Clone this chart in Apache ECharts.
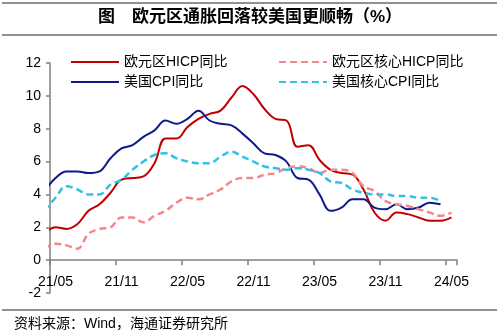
<!DOCTYPE html>
<html>
<head>
<meta charset="utf-8">
<script src="https://cdn.jsdelivr.net/npm/echarts@6/dist/echarts.min.js"></script>
<style>
html,body{margin:0;padding:0;background:#fff;}
#chart{width:500px;height:334px;}
</style>
</head>
<body>
<div id="chart"></div>
<script>
// Monthly data 21/04 .. 24/05 (first month is partly outside the axis range)
const months = ['21/04','21/05','21/06','21/07','21/08','21/09','21/10','21/11','21/12',
  '22/01','22/02','22/03','22/04','22/05','22/06','22/07','22/08','22/09','22/10','22/11','22/12',
  '23/01','23/02','23/03','23/04','23/05','23/06','23/07','23/08','23/09','23/10','23/11','23/12',
  '24/01','24/02','24/03','24/04','24/05'];
const categories = months.slice(1); // axis categories 21/05 .. 24/05

const euroHICP = [1.6,2.0,1.9,2.2,3.0,3.4,4.1,4.9,5.0,
  5.1,5.9,7.4,7.4,8.1,8.6,8.9,9.1,9.9,10.6,10.1,9.2,
  8.6,8.5,6.9,7.0,6.1,5.5,5.3,5.2,4.3,2.9,2.4,2.9,
  2.8,2.6,2.4,2.4,2.6];
const euroCore = [0.7,1.0,0.9,0.7,1.6,1.9,2.0,2.6,2.6,
  2.3,2.7,3.0,3.5,3.8,3.7,4.0,4.3,4.8,5.0,5.0,5.2,
  5.3,5.6,5.7,5.6,5.3,5.5,5.5,5.3,4.5,4.2,3.6,3.4,
  3.3,3.1,2.9,2.7,2.9];
const usCPI = [4.2,5.0,5.4,5.4,5.3,5.4,6.2,6.8,7.0,
  7.5,7.9,8.5,8.3,8.6,9.1,8.5,8.3,8.2,7.7,7.1,6.5,
  6.4,6.0,5.0,4.9,4.0,3.0,3.2,3.7,3.7,3.2,3.1,3.4,
  3.1,3.2,3.5,3.4];
const usCore = [3.0,3.8,4.5,4.3,4.0,4.0,4.6,4.9,5.5,
  6.0,6.4,6.5,6.2,6.0,5.9,5.9,6.3,6.6,6.3,6.0,5.7,
  5.6,5.5,5.6,5.5,5.3,4.8,4.7,4.3,4.1,4.0,4.0,3.9,
  3.9,3.8,3.8,3.6];

const yTicks = {min: -2, max: 12, interval: 2};

// month index -> position at centre of its category band (21/05 band = [0,1])
function toXY(arr){ return arr.map((v, i) => [i - 0.5, v]); }

const FONT = 'Liberation Sans, Arial, Noto Sans CJK SC, sans-serif';
const chart = echarts.init(document.getElementById('chart'));

// plot area
const G = {left: 50, right: 43, top: 63, bottom: 41};
const H = 334 - G.top - G.bottom;
const zeroY = G.top + H * (yTicks.max - 0) / (yTicks.max - yTicks.min);

function lineSeries(name, data, color, dashed, width){
  return {
    name: name, type: 'line', xAxisIndex: 0, yAxisIndex: 0,
    data: toXY(data), smooth: 0.4, symbol: 'none', showSymbol: false, clip: true,
    lineStyle: {color: color, width: width, type: dashed ? [7,4] : 'solid'},
    itemStyle: {color: color}
  };
}

const legendCommon = {
  orient: 'vertical', top: 55, padding: 0,
  itemWidth: 48, itemHeight: 12, itemGap: 6,
  itemStyle: {opacity: 0},
  textStyle: {fontFamily: FONT, fontSize: 14, color: '#000'}
};

const axisGrey = '#808080';

chart.setOption({
  animation: false,
  backgroundColor: '#fff',
  title: [{
    text: '图　欧元区通胀回落较美国更顺畅（%）',
    left: 'center', top: 9, padding: 0,
    textStyle: {fontFamily: FONT, fontSize: 17, fontWeight: 'bold', color: '#000'}
  }, {
    text: '资料来源：Wind，海通证券研究所',
    left: 14, top: 317, padding: 0,
    textStyle: {fontFamily: FONT, fontSize: 14, fontWeight: 'normal', color: '#000'}
  }],
  graphic: [
    {type: 'line', shape: {x1: 2, y1: 3, x2: 497, y2: 3}, style: {stroke: '#222', lineWidth: 1}},
    {type: 'line', shape: {x1: 2, y1: 35, x2: 497, y2: 35}, style: {stroke: '#222', lineWidth: 1}},
    {type: 'line', shape: {x1: 2, y1: 310, x2: 497, y2: 310}, style: {stroke: '#222', lineWidth: 1}}
  ],
  legend: [
    Object.assign({data: ['欧元区HICP同比', '美国CPI同比'], left: 70}, legendCommon),
    Object.assign({data: ['欧元区核心HICP同比', '美国核心CPI同比'], left: 278}, legendCommon)
  ],
  grid: [
    {left: G.left, right: G.right, top: G.top, bottom: G.bottom, containLabel: false},
    // category axis grid whose bottom edge sits on y = 0 of the data grid
    {left: G.left, right: G.right, top: G.top, bottom: 334 - zeroY, containLabel: false}
  ],
  xAxis: [{
    gridIndex: 0, type: 'value', min: 0, max: 37, show: false,
    axisLine: {onZero: false}, splitLine: {show: false}
  }, {
    gridIndex: 1, type: 'category', data: categories, boundaryGap: true, position: 'bottom',
    axisLine: {onZero: false, lineStyle: {color: axisGrey, width: 1.5}},
    axisTick: {show: true, interval: 5, alignWithLabel: false, length: 5, lineStyle: {color: axisGrey, width: 1.5}},
    axisLabel: {interval: 5, margin: 15, fontFamily: FONT, fontSize: 14, color: '#000'},
    splitLine: {show: false}
  }],
  yAxis: [{
    gridIndex: 0, type: 'value', min: yTicks.min, max: yTicks.max, interval: yTicks.interval,
    axisLine: {show: true, onZero: false, lineStyle: {color: axisGrey, width: 1.5}},
    axisTick: {show: true, length: 4, lineStyle: {color: axisGrey, width: 1.5}},
    axisLabel: {margin: 9, fontFamily: FONT, fontSize: 14, color: '#000'},
    splitLine: {show: false}
  }, {
    gridIndex: 1, type: 'value', min: 0, max: 1, show: false, splitLine: {show: false}
  }],
  series: [
    lineSeries('欧元区HICP同比', euroHICP, '#C00000', false, 2),
    lineSeries('美国CPI同比', usCPI, '#0E1A8C', false, 2),
    lineSeries('欧元区核心HICP同比', euroCore, '#F4868C', true, 2.5),
    lineSeries('美国核心CPI同比', usCore, '#30C0E8', true, 2.5)
  ]
});
</script>
</body>
</html>
